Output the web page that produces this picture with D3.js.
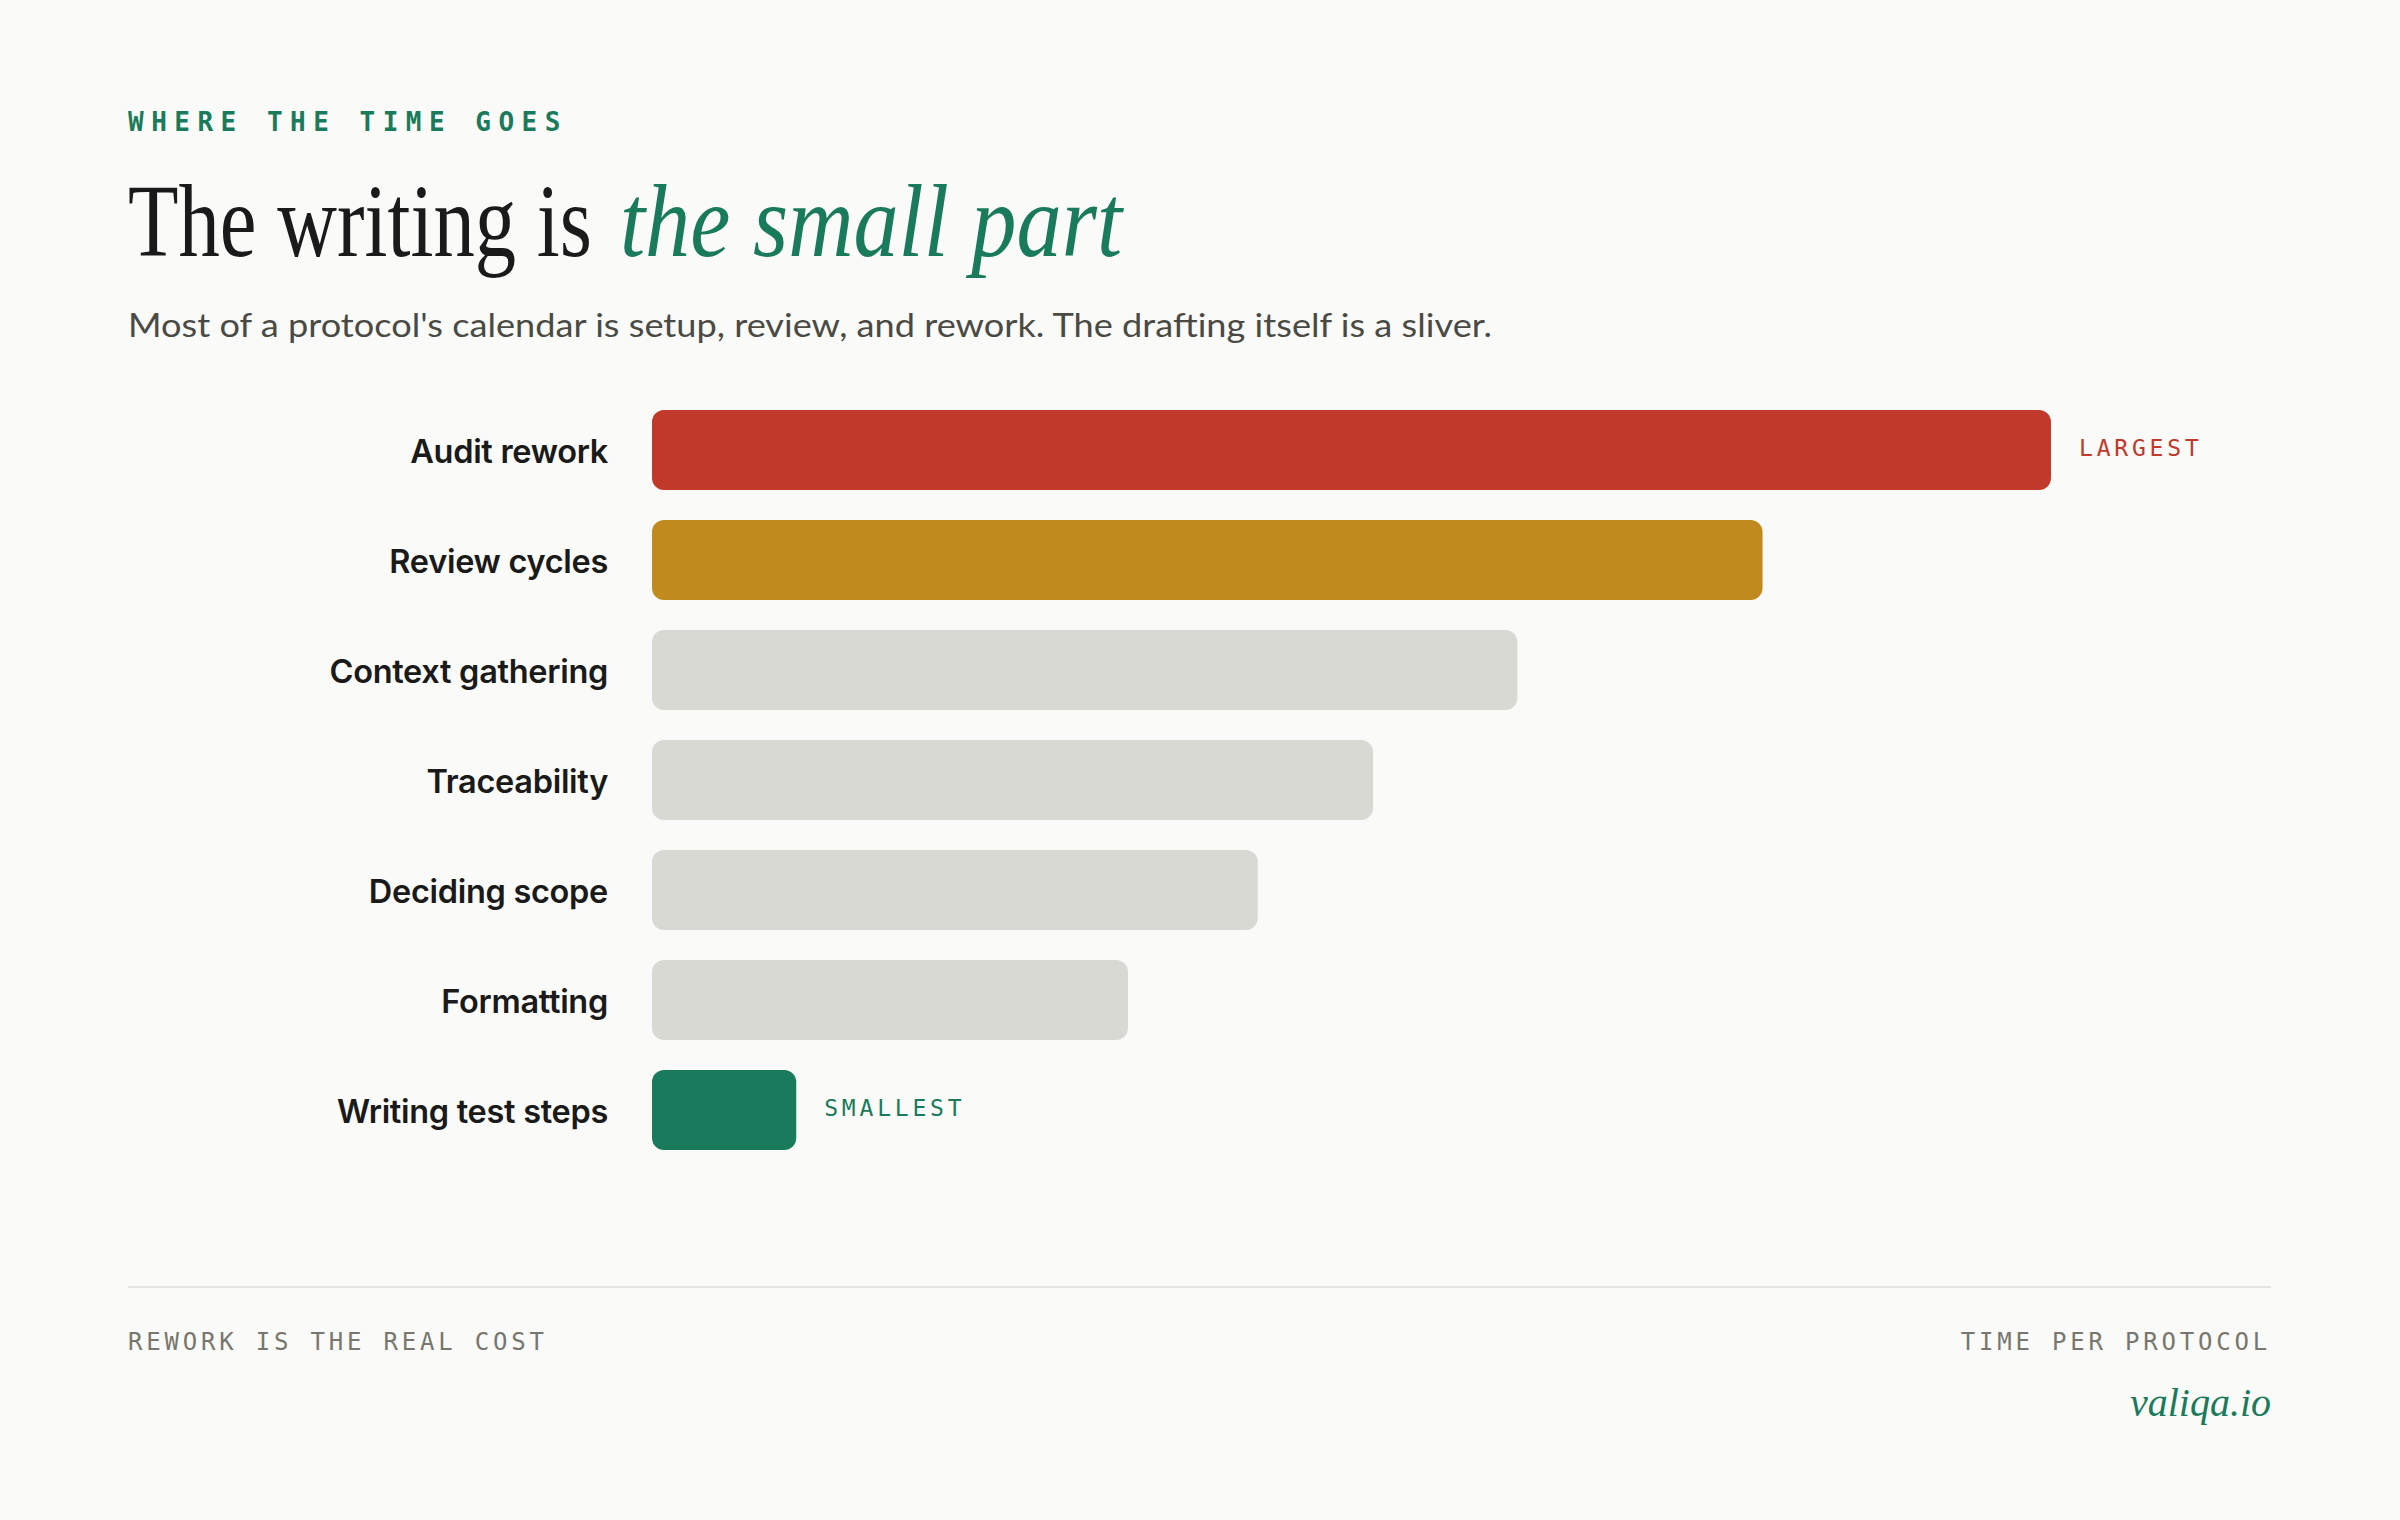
<!DOCTYPE html>
<html><head><meta charset="utf-8">
<script src="https://cdn.jsdelivr.net/npm/d3@7"></script>
<style>html,body{margin:0;background:#fafaf8;}</style>
</head><body><svg id="c" width="2400" height="1520"></svg>
<script>
const categories = ["Audit rework","Review cycles","Context gathering","Traceability","Deciding scope","Formatting","Writing test steps"];
const values = [97,77,60,50,42,33,10];
const barColors = ["#c0392b","#c08a1e","#d9d9d3","#d9d9d3","#d9d9d3","#d9d9d3","#1a7a5c"];
const notes = {0:{t:"LARGEST",c:"#c0392b"},6:{t:"SMALLEST",c:"#1a7a5c"}};

const svg = d3.select("#c");
svg.append("rect").attr("width",2400).attr("height",1520).attr("fill","#fafaf8");
const L=128, R=2271;
const mono="'DejaVu Sans Mono','Liberation Mono',monospace";

svg.append("text").attr("x",L).attr("y",131).text("WHERE THE TIME GOES")
 .attr("font-family",mono).attr("font-size",26).attr("font-weight",600).attr("letter-spacing",7.5).attr("fill","#1a7a5c");

svg.append("text").attr("x",L).attr("y",256).text("The writing is")
 .attr("font-family","'Liberation Serif',serif").attr("font-size",104).attr("fill","#1a1a1a")
 .attr("textLength",464).attr("lengthAdjust","spacingAndGlyphs");
svg.append("text").attr("x",620).attr("y",256).text("the small part")
 .attr("font-family","'Liberation Serif',serif").attr("font-style","italic").attr("font-size",104).attr("fill","#1a7a5c")
 .attr("textLength",502).attr("lengthAdjust","spacingAndGlyphs");

svg.append("text").attr("x",L).attr("y",337).text("Most of a protocol's calendar is setup, review, and rework. The drafting itself is a sliver.")
 .attr("font-family","Lato,sans-serif").attr("font-size",33).attr("fill","#4a4a45")
 .attr("textLength",1364).attr("lengthAdjust","spacingAndGlyphs");

const x = d3.scaleLinear().domain([0,97]).range([0,1399]);
const yb = d3.scaleBand().domain(categories).range([410,410+110*7-30]).paddingInner(30/110);
const x0=652;
const g=svg.append("g");
categories.forEach((c,i)=>{
  const yy=yb(c), h=yb.bandwidth();
  g.append("rect").attr("x",x0).attr("y",yy).attr("width",x(values[i])).attr("height",h).attr("rx",12).attr("fill",barColors[i]);
  g.append("text").attr("x",608).attr("y",yy+h/2).attr("dy","0.4em").attr("text-anchor","end").text(c)
   .attr("font-family","Inter,sans-serif").attr("font-weight",600).attr("font-size",32.5).attr("letter-spacing",-0.3).attr("fill","#1a1a1a");
  if(notes[i]) g.append("text").attr("x",x0+x(values[i])+28).attr("y",yy+h/2).attr("dy","0.25em").text(notes[i].t)
   .attr("font-family",mono).attr("font-size",23).attr("letter-spacing",3.8).attr("fill",notes[i].c);
});

svg.append("line").attr("x1",L).attr("x2",R).attr("y1",1287).attr("y2",1287).attr("stroke","#e5e5e0").attr("stroke-width",2);
svg.append("text").attr("x",L).attr("y",1350).text("REWORK IS THE REAL COST")
 .attr("font-family",mono).attr("font-size",24).attr("letter-spacing",3.8).attr("fill","#77776f");
svg.append("text").attr("x",R).attr("y",1350).attr("text-anchor","end").text("TIME PER PROTOCOL")
 .attr("font-family",mono).attr("font-size",24).attr("letter-spacing",3.8).attr("fill","#77776f");
svg.append("text").attr("x",R).attr("y",1416).attr("text-anchor","end").text("valiqa.io")
 .attr("font-family","'Liberation Serif',serif").attr("font-style","italic").attr("font-size",40).attr("fill","#1a7a5c");
</script></body></html>
